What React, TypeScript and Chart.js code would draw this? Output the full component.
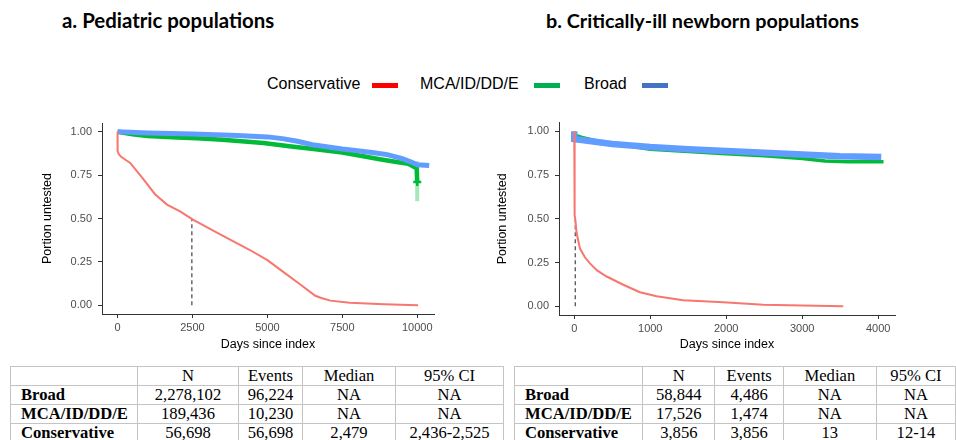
import React, { useEffect, useRef } from "react";
import { Chart, registerables } from "chart.js";
Chart.register(...registerables);

// ---------- data ----------
const SERIES_NAMES = ["Conservative", "MCA/ID/DD/E", "Broad"];
const LEGEND_COLORS = ["#FF0000", "#00B050", "#4472C4"];
const LINE_COLORS = ["#F8766D", "#00BA38", "#619CFF"];

const Y_TICKS = [0, 0.25, 0.5, 0.75, 1.0];
const A_X_TICKS = [0, 2500, 5000, 7500, 10000];
const B_X_TICKS = [0, 1000, 2000, 3000, 4000];

// Panel a: Pediatric populations
const A_CONS_DAYS = [0, 0, 40, 120, 250, 420, 800, 1250, 1650, 2100, 2500, 3300, 4400, 5000, 5550, 6100, 6600, 6800, 7100, 7750, 8900, 10030];
const A_CONS_VALS = [1.0, 0.89, 0.87, 0.855, 0.84, 0.82, 0.74, 0.64, 0.58, 0.54, 0.495, 0.42, 0.32, 0.26, 0.19, 0.12, 0.055, 0.042, 0.027, 0.015, 0.006, 0.0];
const A_MCA_DAYS = [0, 500, 1000, 2000, 2640, 3500, 4870, 5800, 6540, 7500, 8200, 8800, 9313, 9700, 9980, 10000];
const A_MCA_VALS = [1.0, 0.985, 0.975, 0.967, 0.962, 0.953, 0.935, 0.915, 0.9, 0.88, 0.858, 0.84, 0.825, 0.815, 0.79, 0.71];
const A_BROAD_DAYS = [0, 1000, 2500, 4000, 5000, 5500, 6000, 6500, 7500, 8500, 9000, 9500, 9800, 10000, 10400];
const A_BROAD_VALS = [1.0, 0.993, 0.987, 0.978, 0.97, 0.96, 0.945, 0.925, 0.9, 0.88, 0.868, 0.845, 0.825, 0.81, 0.805];
const A_MCA_CI_DAYS = [10000, 10000];
const A_MCA_CI_VALS = [0.6, 0.83];
const A_MEDIAN = 2479;

// Panel b: Critically-ill newborn populations
const B_CONS_DAYS = [0, 1, 4, 9, 13, 30, 75, 140, 206, 300, 426, 645, 864, 1084, 1434, 1961, 2487, 3000, 3540];
const B_CONS_VALS = [1.0, 0.85, 0.62, 0.52, 0.5, 0.42, 0.33, 0.28, 0.245, 0.205, 0.17, 0.123, 0.08, 0.057, 0.034, 0.023, 0.008, 0.004, 0.0];
const B_MCA_DAYS = [0, 100, 300, 500, 1000, 1500, 2000, 2500, 3000, 3300, 3600, 4070];
const B_MCA_VALS = [0.98, 0.965, 0.945, 0.93, 0.897, 0.885, 0.872, 0.86, 0.845, 0.83, 0.826, 0.826];
const B_BROAD_DAYS = [0, 0, 100, 500, 1000, 1500, 2000, 2500, 3000, 3500, 4040];
const B_BROAD_VALS = [1.0, 0.955, 0.95, 0.928, 0.91, 0.898, 0.887, 0.877, 0.868, 0.858, 0.853];
const B_MEDIAN = 13;

const TABLE_HEADER = ["", "N", "Events", "Median", "95% CI"];
const A_ROW_NAMES = ["Broad", "MCA/ID/DD/E", "Conservative"];
const A_N = ["2,278,102", "189,436", "56,698"];
const A_EVENTS = ["96,224", "10,230", "56,698"];
const A_MEDIANS = ["NA", "NA", "2,479"];
const A_CI = ["NA", "NA", "2,436-2,525"];
const B_ROW_NAMES = ["Broad", "MCA/ID/DD/E", "Conservative"];
const B_N = ["58,844", "17,526", "3,856"];
const B_EVENTS = ["4,486", "1,474", "3,856"];
const B_MEDIANS = ["NA", "NA", "13"];
const B_CI = ["NA", "NA", "12-14"];

// ---------- helpers ----------
const pts = (xs: number[], ys: number[]) => xs.map((x, i) => ({ x, y: ys[i] }));

function makeDatasets(p: any) {
  const ds: any[] = [
    { data: pts(p.consD, p.consV), borderColor: LINE_COLORS[0], borderWidth: 2 },
  ];
  const green = { data: pts(p.mcaD, p.mcaV), borderColor: LINE_COLORS[1], borderWidth: p.greenW,
    pointRadius: p.mcaD.map((_: number, i: number) => (p.mcaMarkLast && i === p.mcaD.length - 1 ? 4 : 0)),
    pointStyle: "cross", pointBorderColor: LINE_COLORS[1], pointBorderWidth: 2.5 };
  const blue = { data: pts(p.broadD, p.broadV), borderColor: LINE_COLORS[2], borderWidth: p.blueW };
  ds.push(blue, green);
  if (p.ciD) ds.push({ data: pts(p.ciD, p.ciV), borderColor: "rgba(0,186,56,0.35)", borderWidth: 4 });
  ds.push({ data: pts([p.median, p.median], [0, 0.5]), borderColor: "#444", borderWidth: 1.2, borderDash: [4, 3] });
  return ds.map((d) => ({ pointRadius: 0, tension: 0, fill: false, ...d }));
}

function KMChart(props: any) {
  const ref = useRef<HTMLCanvasElement>(null);
  useEffect(() => {
    const g = props.geom;
    const tickFont = { family: "'Liberation Sans', Arial, sans-serif", size: 11 };
    const titleFont = { family: "'Liberation Sans', Arial, sans-serif", size: 12.5 };
    const chart = new Chart(ref.current as HTMLCanvasElement, {
      type: "line",
      data: { datasets: makeDatasets(props) },
      options: {
        animation: false,
        responsive: false,
        maintainAspectRatio: false,
        layout: { padding: { top: g.padTop, right: g.padRight, left: 0, bottom: 0 } },
        plugins: { legend: { display: false }, tooltip: { enabled: false } },
        scales: {
          x: {
            type: "linear", min: props.xMin, max: props.xMax,
            afterBuildTicks: (s: any) => { s.ticks = props.xTicks.map((v: number) => ({ value: v })); },
            afterFit: (s: any) => { s.height = g.xAxisH; },
            ticks: { autoSkip: false, maxRotation: 0, padding: 3, color: "#4d4d4d", font: tickFont,
              callback: (v: any) => String(v) },
            grid: { display: true, drawOnChartArea: false, drawTicks: true, tickLength: 4, color: "#333" },
            border: { display: true, color: "#333", width: 1 },
            title: { display: true, text: "Days since index", color: "#000", font: titleFont, padding: { top: 0, bottom: 7.5 } },
          },
          y: {
            type: "linear", min: -0.05, max: 1.05,
            afterBuildTicks: (s: any) => { s.ticks = Y_TICKS.map((v) => ({ value: v })); },
            afterFit: (s: any) => { s.width = g.yAxisW; },
            ticks: { autoSkip: false, padding: 6, color: "#4d4d4d", font: tickFont,
              callback: (v: any) => Number(v).toFixed(2) },
            grid: { display: true, drawOnChartArea: false, drawTicks: true, tickLength: 4, color: "#333" },
            border: { display: true, color: "#333", width: 1 },
            title: { display: true, text: "Portion untested", color: "#000", font: titleFont, padding: { top: g.yTitlePad, bottom: 0 } },
          },
        },
      } as any,
    });
    return () => chart.destroy();
  }, []);
  return (
    <canvas ref={ref} width={420} height={250}
      style={{ position: "absolute", left: props.left, top: props.top, width: 420, height: 250 }} />
  );
}

function StatTable(props: any) {
  const border = "1.5px solid #c4c4c4";
  const cell: any = { border, height: 18, padding: 0, lineHeight: "18px", textAlign: "center", whiteSpace: "nowrap", overflow: "hidden" };
  return (
    <table style={{ position: "absolute", left: props.left, top: 366, borderCollapse: "collapse", tableLayout: "fixed",
      fontFamily: "'Liberation Serif', 'Times New Roman', serif", fontSize: 16.6, color: "#000" }}>
      <colgroup>{props.widths.map((w: number, i: number) => <col key={i} style={{ width: w }} />)}</colgroup>
      <tbody>
        <tr>{TABLE_HEADER.map((h, i) => <td key={i} style={cell}>{h}</td>)}</tr>
        {props.names.map((n: string, r: number) => (
          <tr key={r}>
            <td style={{ ...cell, textAlign: "left", paddingLeft: 10, fontWeight: "bold" }}>{n}</td>
            <td style={cell}>{props.n[r]}</td>
            <td style={cell}>{props.events[r]}</td>
            <td style={cell}>{props.medians[r]}</td>
            <td style={cell}>{props.ci[r]}</td>
          </tr>
        ))}
      </tbody>
    </table>
  );
}

export default function App() {
  const titleStyle: any = { position: "absolute", top: 10, fontFamily: "Lato, 'Open Sans', sans-serif", fontWeight: "bold", fontSize: 20, lineHeight: "20px", color: "#000", whiteSpace: "nowrap" };
  const legendText: any = { position: "absolute", top: 76, fontFamily: "'Liberation Sans', Arial, sans-serif", fontSize: 16, lineHeight: "16px", color: "#000", whiteSpace: "nowrap" };
  const legendTextX = [267, 420, 584];
  const legendSwX = [372, 534, 642];
  return (
    <div style={{ position: "absolute", left: 0, top: 0, width: 956, height: 440, overflow: "hidden", background: "#fff" }}>
      <div style={{ ...titleStyle, left: 62, fontSize: 20.4 }}>a. Pediatric populations</div>
      <div style={{ ...titleStyle, left: 546, fontSize: 19.8 }}>b. Critically-ill newborn populations</div>
      {SERIES_NAMES.map((n, i) => (
        <React.Fragment key={n}>
          <div style={{ ...legendText, left: legendTextX[i] }}>{n}</div>
          <div style={{ position: "absolute", left: legendSwX[i], top: 82.5, width: 26, height: 5, background: LEGEND_COLORS[i] }} />
        </React.Fragment>
      ))}
      <KMChart left={30} top={110} xMin={-520} xMax={10560} xTicks={A_X_TICKS}
        geom={{ padTop: 13, padRight: 16, xAxisH: 46, yAxisW: 72, yTitlePad: 10.5 }}
        consD={A_CONS_DAYS} consV={A_CONS_VALS} mcaD={A_MCA_DAYS} mcaV={A_MCA_VALS}
        broadD={A_BROAD_DAYS} broadV={A_BROAD_VALS} ciD={A_MCA_CI_DAYS} ciV={A_MCA_CI_VALS}
        median={A_MEDIAN} mcaMarkLast={true} greenW={4.5} blueW={5} />
      <KMChart left={490} top={110} xMin={-201} xMax={4221} xTicks={B_X_TICKS}
        geom={{ padTop: 12, padRight: 15, xAxisH: 45, yAxisW: 69, yTitlePad: 5.5 }}
        consD={B_CONS_DAYS} consV={B_CONS_VALS} mcaD={B_MCA_DAYS} mcaV={B_MCA_VALS}
        broadD={B_BROAD_DAYS} broadV={B_BROAD_VALS}
        median={B_MEDIAN} mcaMarkLast={false} greenW={3.5} blueW={6.5} />
      <StatTable left={10} widths={[127, 101, 64, 93, 108]} names={A_ROW_NAMES} n={A_N} events={A_EVENTS} medians={A_MEDIANS} ci={A_CI} />
      <StatTable left={514} widths={[129, 74, 70, 96, 81]} names={B_ROW_NAMES} n={B_N} events={B_EVENTS} medians={B_MEDIANS} ci={B_CI} />
    </div>
  );
}
